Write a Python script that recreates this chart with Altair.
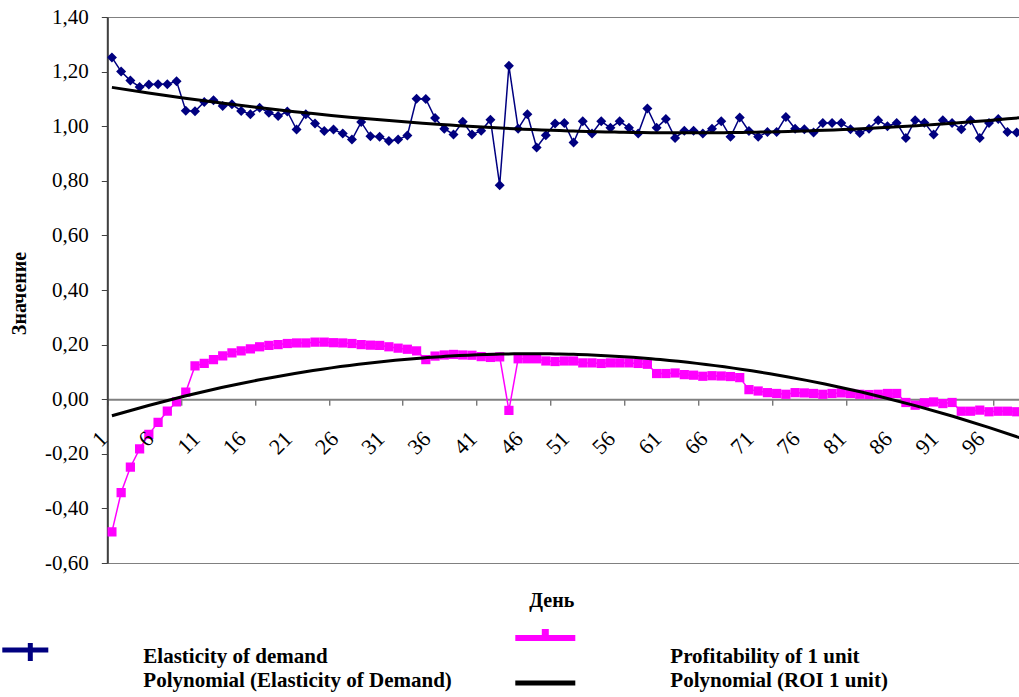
import altair as alt
import pandas as pd

DAYS = list(range(1, 100))

ELASTICITY = [
    1.252, 1.200, 1.167, 1.144, 1.153, 1.154, 1.154, 1.165, 1.057, 1.055,
    1.089, 1.095, 1.074, 1.080, 1.056, 1.044, 1.068, 1.049, 1.037, 1.054,
    0.988, 1.044, 1.010, 0.982, 0.988, 0.973, 0.951, 1.015, 0.963, 0.961,
    0.946, 0.951, 0.966, 1.101, 1.100, 1.030, 0.991, 0.970, 1.016, 0.970,
    0.983, 1.024, 0.784, 1.221, 0.991, 1.044, 0.922, 0.967, 1.010, 1.012,
    0.940, 1.018, 0.973, 1.018, 0.994, 1.018, 0.994, 0.973, 1.065, 0.994,
    1.026, 0.957, 0.983, 0.983, 0.973, 0.991, 1.018, 0.961, 1.032, 0.982,
    0.961, 0.979, 0.979, 1.034, 0.991, 0.989, 0.977, 1.012, 1.012, 1.012,
    0.989, 0.975, 0.991, 1.022, 1.000, 1.012, 0.957, 1.022, 1.013, 0.970,
    1.022, 1.012, 0.989, 1.022, 0.957, 1.012, 1.026, 0.979, 0.977,
]

PROFIT = [
    -0.486, -0.342, -0.249, -0.182, -0.129, -0.085, -0.044, -0.010, 0.026, 0.122,
    0.131, 0.145, 0.159, 0.170, 0.177, 0.184, 0.192, 0.197, 0.200, 0.204,
    0.206, 0.206, 0.209, 0.209, 0.207, 0.206, 0.204, 0.200, 0.198, 0.197,
    0.192, 0.187, 0.183, 0.177, 0.145, 0.158, 0.162, 0.164, 0.162, 0.161,
    0.156, 0.153, 0.155, -0.041, 0.148, 0.148, 0.148, 0.140, 0.138, 0.140,
    0.140, 0.133, 0.133, 0.131, 0.133, 0.133, 0.133, 0.131, 0.128, 0.094,
    0.094, 0.096, 0.090, 0.088, 0.084, 0.086, 0.085, 0.083, 0.079, 0.035,
    0.030, 0.024, 0.021, 0.018, 0.024, 0.023, 0.021, 0.018, 0.021, 0.023,
    0.021, 0.018, 0.017, 0.018, 0.021, 0.021, -0.012, -0.022, -0.013, -0.010,
    -0.016, -0.012, -0.044, -0.044, -0.040, -0.046, -0.044, -0.044, -0.046,
]

X_TICK_LABELS = [1, 6, 11, 16, 21, 26, 31, 36, 41, 46, 51, 56, 61, 66, 71, 76, 81, 86, 91, 96]
Y_TICKS = [-0.6, -0.4, -0.2, 0.0, 0.2, 0.4, 0.6, 0.8, 1.0, 1.2, 1.4]
LEGEND_LABELS = [
    "Elasticity of demand",
    "Polynomial (Elasticity of Demand)",
    "Profitability of 1 unit",
    "Polynomial (ROI 1 unit)",
]
X_TITLE = "День"
Y_TITLE = "Значение"

FONT = "Liberation Serif, Times New Roman, DejaVu Serif, serif"
NAVY = "#000080"
MAGENTA = "#FF00FF"

W = 911.7
H = 546
ZERO_FROM_TOP = H * (1.4 - 0.0) / 2.0
AXIS_OFFSET = -(H - ZERO_FROM_TOP)

df = pd.DataFrame({"day": DAYS, "elast": ELASTICITY, "profit": PROFIT})
lab_df = pd.DataFrame({"day": X_TICK_LABELS, "txt": [str(v) for v in X_TICK_LABELS], "zero": [0.0] * len(X_TICK_LABELS)})

xscale = alt.Scale(domain=[0.5, 99.25], nice=False, zero=False)
yscale = alt.Scale(domain=[-0.6, 1.4], nice=False, zero=False)

# x axis drawn along y = 0: category-boundary tick marks + title
xaxis = alt.Axis(
    orient="bottom",
    values=DAYS + [100],
    tickOffset=-4.6,
    labels=False,
    tickSize=6,
    tickColor="#404040",
    tickWidth=1,
    domainColor="#808080",
    domainWidth=2,
    grid=False,
    offset=AXIS_OFFSET,
    title=X_TITLE,
    titleFont=FONT,
    titleFontSize=20,
    titleFontWeight="bold",
    titleColor="#000000",
    titleX=444,
    titleY=207,
    titleAlign="center",
    titleBaseline="alphabetic",
)

yaxis = alt.Axis(
    values=Y_TICKS,
    labelExpr="replace(replace(format(datum.value, '.2f'), '.', ','), '\u2212', '-')",
    labelFont=FONT,
    labelFontSize=21,
    labelColor="#000000",
    labelPadding=13,
    tickSize=6,
    tickColor="#404040",
    domainColor="#404040",
    domainWidth=2,
    grid=False,
    title=Y_TITLE,
    titleFont=FONT,
    titleFontSize=20,
    titleFontWeight="bold",
    titleColor="#000000",
    titleAngle=270,
    titleX=-82,
    titleY=276,
    titleAlign="center",
    titleBaseline="alphabetic",
)

base = alt.Chart(df)

elast_line = base.mark_line(color=NAVY, strokeWidth=1.5, clip=True).encode(
    x=alt.X("day:Q", scale=xscale, axis=xaxis),
    y=alt.Y("elast:Q", scale=yscale, axis=yaxis),
)
elast_pts = base.mark_point(shape="diamond", filled=True, color=NAVY, size=100, opacity=1, clip=True).encode(
    x=alt.X("day:Q", scale=xscale),
    y=alt.Y("elast:Q", scale=yscale),
)
profit_line = base.mark_line(color=MAGENTA, strokeWidth=1.5, clip=True).encode(
    x=alt.X("day:Q", scale=xscale),
    y=alt.Y("profit:Q", scale=yscale),
)
profit_pts = base.mark_point(shape="square", filled=True, color=MAGENTA, size=85, opacity=1, clip=True).encode(
    x=alt.X("day:Q", scale=xscale),
    y=alt.Y("profit:Q", scale=yscale),
)
elast_trend = base.transform_regression(
    "day", "elast", method="poly", order=2, extent=[1, 100]
).mark_line(color="#000000", strokeWidth=3, clip=True).encode(
    x=alt.X("day:Q", scale=xscale),
    y=alt.Y("elast:Q", scale=yscale),
)
profit_trend = base.transform_regression(
    "day", "profit", method="poly", order=2, extent=[1, 100]
).mark_line(color="#000000", strokeWidth=3, clip=True).encode(
    x=alt.X("day:Q", scale=xscale),
    y=alt.Y("profit:Q", scale=yscale),
)

# rotated category labels hanging below the zero line
x_labels = alt.Chart(lab_df).mark_text(
    font=FONT, fontSize=22, color="#000000", angle=315, align="right", baseline="middle",
    xOffset=-8, yOffset=36,
).encode(
    x=alt.X("day:Q", scale=xscale),
    y=alt.Y("zero:Q", scale=yscale),
    text="txt:N",
)


def legend_text(i, x, y):
    d = pd.DataFrame({"t": [LEGEND_LABELS[i]]})
    return alt.Chart(d).mark_text(
        font=FONT, fontSize=21, fontWeight="bold", align="left", baseline="alphabetic", color="#000000"
    ).encode(text="t:N", x=alt.value(x), y=alt.value(y))


one = pd.DataFrame({"k": [0]})


def hbar(x1, x2, y, color, width):
    return alt.Chart(one).mark_rule(color=color, strokeWidth=width).encode(
        x=alt.value(x1), x2=alt.value(x2), y=alt.value(y)
    )


def vbar(x, y1, y2, color, width):
    return alt.Chart(one).mark_rule(color=color, strokeWidth=width).encode(
        x=alt.value(x), y=alt.value(y1), y2=alt.value(y2)
    )


legend_layers = [
    hbar(-105, -59, 633, NAVY, 5),
    vbar(-77, 626, 644, NAVY, 5),
    hbar(408, 468, 621, MAGENTA, 6),
    vbar(438, 612, 619, MAGENTA, 7),
    hbar(408, 468, 666, "#000000", 5),
    legend_text(0, 36, 646),
    legend_text(1, 36, 670),
    legend_text(2, 563, 646),
    legend_text(3, 563, 670),
]

chart = alt.layer(
    elast_line, elast_pts, profit_line, profit_pts, elast_trend, profit_trend, x_labels, *legend_layers
).properties(
    width=W,
    height=H,
    padding={"left": 107.3, "top": 17, "right": 0, "bottom": 134},
    autosize=alt.AutoSizeParams(type="none"),
    background="#ffffff",
).configure_view(
    stroke="#808080", strokeWidth=1
)

chart.save("out.html", embed_options={"renderer": "svg", "actions": False})
